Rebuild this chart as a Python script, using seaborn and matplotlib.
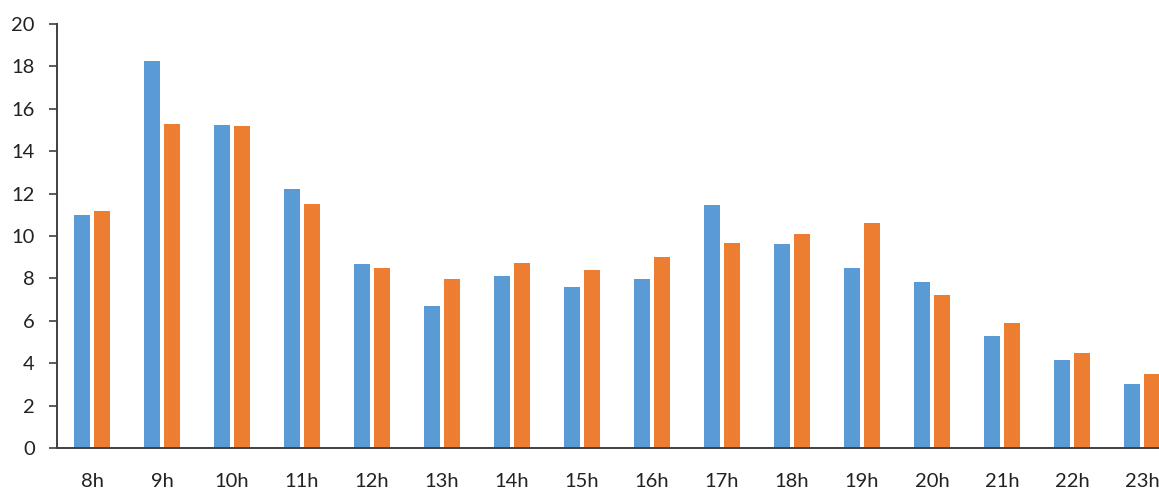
import pandas as pd
import matplotlib.pyplot as plt
import seaborn as sns

# --- Données ---
heures = ["8h", "9h", "10h", "11h", "12h", "13h", "14h", "15h",
          "16h", "17h", "18h", "19h", "20h", "21h", "22h", "23h"]
serie1 = [11.0, 18.25, 15.25, 12.2, 8.7, 6.7, 8.1, 7.6,
          7.95, 11.45, 9.6, 8.5, 7.85, 5.3, 4.15, 3.0]
serie2 = [11.2, 15.3, 15.2, 11.5, 8.5, 7.95, 8.75, 8.4,
          9.0, 9.65, 10.1, 10.6, 7.2, 5.9, 4.5, 3.5]

df = pd.DataFrame({
    "heure": heures * 2,
    "valeur": serie1 + serie2,
    "serie": ["Série 1"] * len(heures) + ["Série 2"] * len(heures),
})

sns.set_style("white")
plt.rcParams['font.family'] = ['Lato', 'DejaVu Sans']

fig = plt.figure(figsize=(11.59, 4.88), dpi=100)
ax = fig.add_axes([57 / 1159, 40 / 488, 1102 / 1159, 424 / 488])

sns.barplot(data=df, x="heure", y="valeur", hue="serie", order=heures,
            palette=["#5B9BD5", "#ED7D31"], saturation=1, width=0.571, gap=0.2,
            linewidth=0, legend=False, ax=ax)

ax.set_ylim(0, 20)
ax.set_xlim(-0.5, 15.5 - 18 / 70)
ax.set_yticks(range(0, 21, 2))
ax.set_xlabel("")
ax.set_ylabel("")

sns.despine(ax=ax, top=True, right=True)
for s in ["left", "bottom"]:
    ax.spines[s].set_color("#404040")
    ax.spines[s].set_linewidth(1.4)

ax.tick_params(axis="y", length=6, width=1.2, color="#404040", pad=10,
               labelsize=14.5, labelcolor="#222222", left=True)
ax.tick_params(axis="x", length=0, pad=18, labelsize=14.5, labelcolor="#222222")

fig.savefig("out.png", dpi=100)
